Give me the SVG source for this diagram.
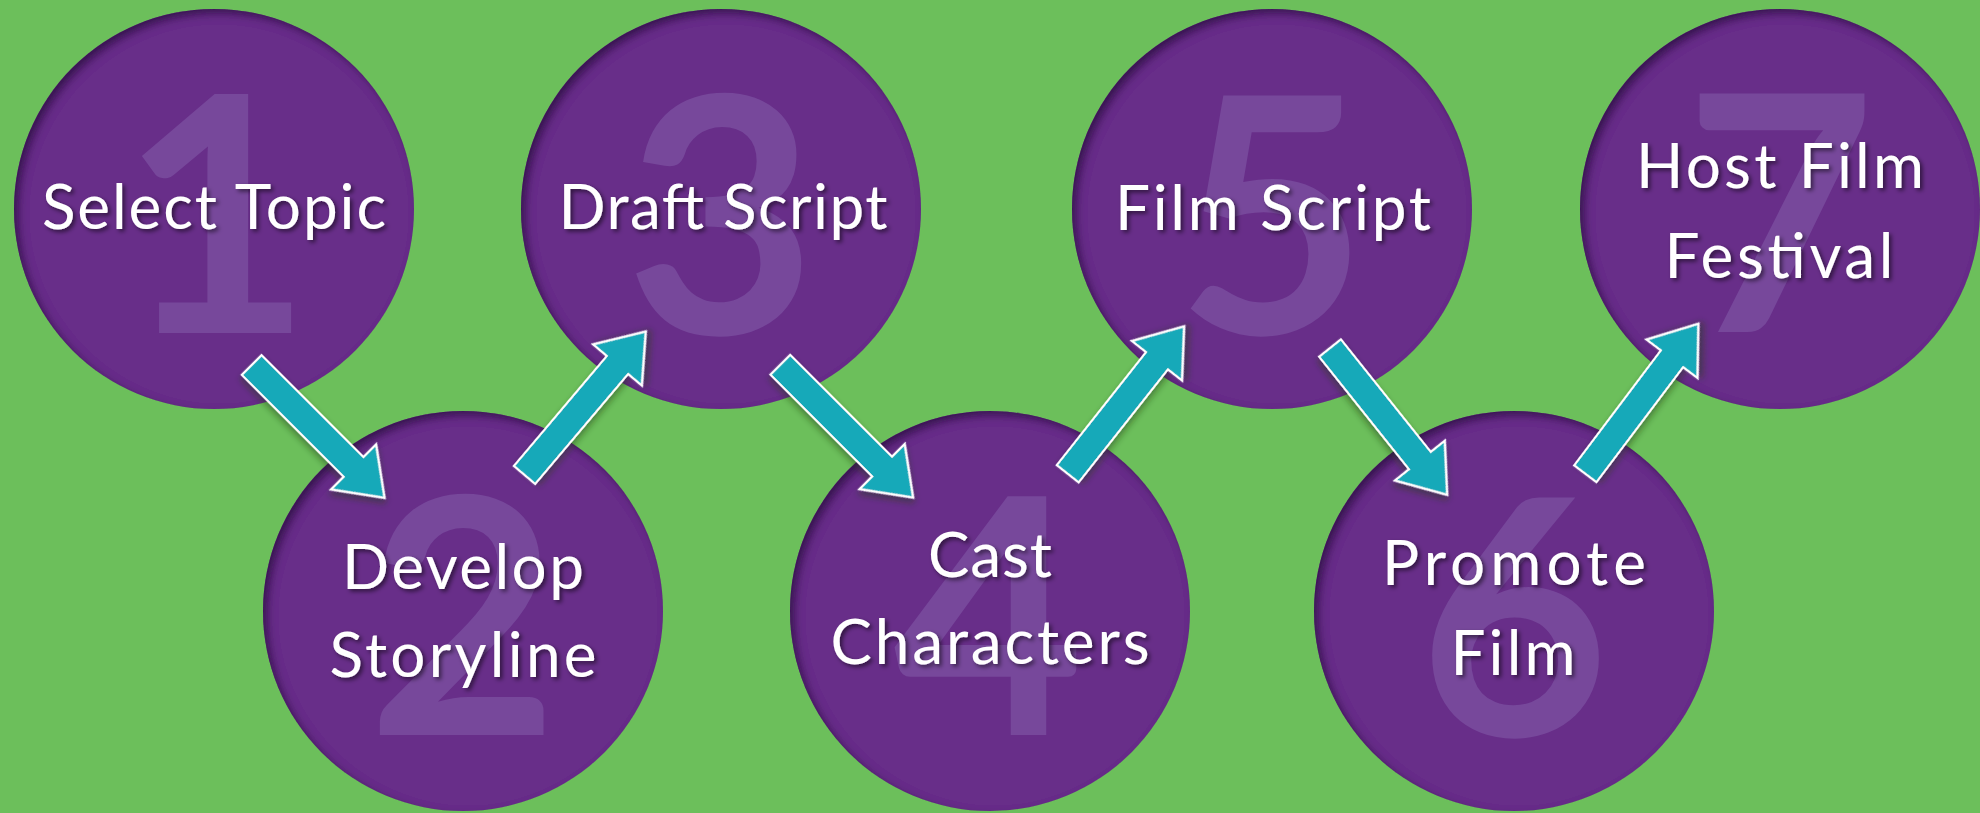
<svg xmlns="http://www.w3.org/2000/svg" width="1980" height="813" viewBox="0 0 1980 813">
<defs>
<style>
.bg{fill:#6CBF5B}
.disc{fill:#672F89;filter:url(#inset)}
.num{font-family:Lato,"Open Sans",sans-serif;font-weight:bold;font-size:330px;fill:#77489B;text-anchor:middle}
.lbl{font-family:Lato,"Open Sans",sans-serif;font-size:62px;fill:#FFFFFF;text-anchor:middle;filter:url(#tshadow)}
.arrow{fill:#16A9B9;stroke:#FFFFFF;stroke-width:2.2;stroke-linejoin:miter;filter:url(#ashadow)}
</style>
<filter id="inset" x="-10%" y="-10%" width="120%" height="120%">
<feOffset in="SourceAlpha" dx="5" dy="5" result="off"/>
<feGaussianBlur in="off" stdDeviation="4" result="blur"/>
<feComposite operator="out" in="SourceAlpha" in2="blur" result="rim"/>
<feFlood flood-color="#2A0C40" flood-opacity="0.85" result="col"/>
<feComposite operator="in" in="col" in2="rim" result="sh"/>
<feMerge><feMergeNode in="SourceGraphic"/><feMergeNode in="sh"/></feMerge>
</filter>
<filter id="tshadow" x="-10%" y="-20%" width="120%" height="150%">
<feDropShadow dx="2.5" dy="2.5" stdDeviation="2" flood-color="#000000" flood-opacity="0.55"/>
</filter>
<filter id="ashadow" x="-20%" y="-40%" width="140%" height="180%">
<feDropShadow dx="3" dy="3" stdDeviation="3" flood-color="#1A3A10" flood-opacity="0.5"/>
</filter>
<polygon id="arr" points="0,-14 144,-14 144,-32 188,0 144,32 144,14 0,14"/>
</defs>
<rect class="bg" x="0" y="0" width="1980" height="813"/>
<g id="node1">
<circle class="disc" cx="214" cy="209" r="200"/>
<text class="num" x="216" y="333">1</text>
<text class="lbl" x="214" y="229" textLength="344" lengthAdjust="spacing">Select Topic</text>
</g>
<g id="node2">
<circle class="disc" cx="463" cy="611" r="200"/>
<text class="num" x="463" y="735">2</text>
<text class="lbl" x="463" y="589" textLength="242" lengthAdjust="spacing">Develop</text>
<text class="lbl" x="463" y="677" textLength="267" lengthAdjust="spacing">Storyline</text>
</g>
<g id="node3">
<circle class="disc" cx="721" cy="209" r="200"/>
<text class="num" x="721" y="334">3</text>
<text class="lbl" x="723" y="229" textLength="329" lengthAdjust="spacing">Draft Script</text>
</g>
<g id="node4">
<circle class="disc" cx="990" cy="611" r="200"/>
<text class="num" x="989" y="735">4</text>
<text class="lbl" x="990" y="577" textLength="124" lengthAdjust="spacing">Cast</text>
<text class="lbl" x="990" y="664" textLength="319" lengthAdjust="spacing">Characters</text>
</g>
<g id="node5">
<circle class="disc" cx="1272" cy="209" r="200"/>
<text class="num" x="1272" y="334">5</text>
<text class="lbl" x="1273" y="230" textLength="316" lengthAdjust="spacing">Film Script</text>
</g>
<g id="node6">
<circle class="disc" cx="1514" cy="611" r="200"/>
<text class="num" x="1514" y="736">6</text>
<text class="lbl" x="1514" y="585" textLength="264" lengthAdjust="spacing">Promote</text>
<text class="lbl" x="1513" y="675" textLength="125" lengthAdjust="spacing">Film</text>
</g>
<g id="node7">
<circle class="disc" cx="1780" cy="209" r="200"/>
<text class="num" x="1780" y="332">7</text>
<text class="lbl" x="1780" y="188" textLength="288" lengthAdjust="spacing">Host Film</text>
<text class="lbl" x="1779" y="278" textLength="229" lengthAdjust="spacing">Festival</text>
</g>
<g id="connectors">
<use href="#arr" class="arrow" transform="translate(251.7,365) rotate(45)"/>
<use href="#arr" class="arrow" transform="translate(524.5,475) rotate(-49.8)"/>
<use href="#arr" class="arrow" transform="translate(780.3,364.7) rotate(45)"/>
<use href="#arr" class="arrow" transform="translate(1067.7,473.8) rotate(-51.7)"/>
<use href="#arr" class="arrow" transform="translate(1330,348) rotate(51.4)"/>
<use href="#arr" class="arrow" transform="translate(1585.3,473.8) rotate(-53)"/>
</g>
</svg>
